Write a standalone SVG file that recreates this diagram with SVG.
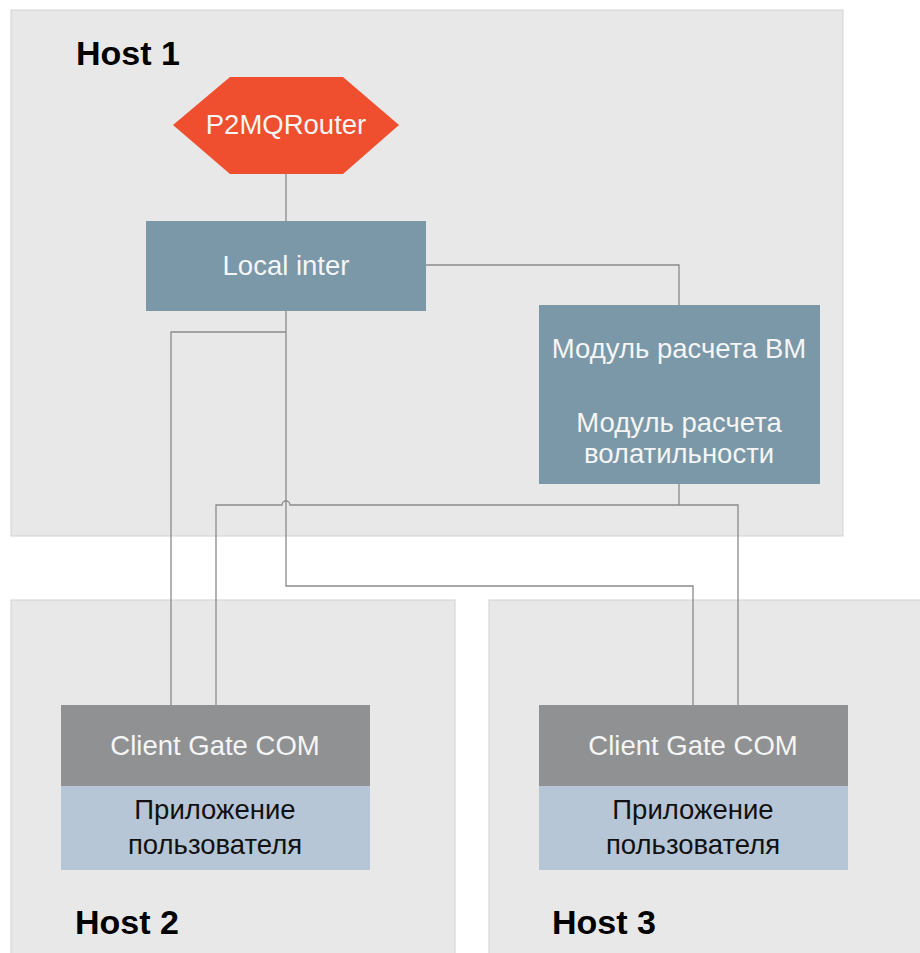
<svg xmlns="http://www.w3.org/2000/svg" width="920" height="953" viewBox="0 0 920 953">
<style>
.host{fill:#e8e8e8;stroke:#d2d2d2;stroke-width:1}
.hl{font-family:"Liberation Sans",Arial,sans-serif;font-weight:bold;font-size:34px;fill:#000}
.wt{font-family:"Liberation Sans",Arial,sans-serif;font-size:27.5px;fill:#f5f5f5;text-anchor:middle}
.bt{font-family:"Liberation Sans",Arial,sans-serif;font-size:27.5px;fill:#111;text-anchor:middle}
.ln{fill:none;stroke:#8a8a8a;stroke-width:1.3}
</style>
<rect width="920" height="953" fill="#fff"/>
<g id="host1"><rect class="host" x="11" y="10" width="832" height="526"/><text class="hl" x="76" y="65">Host 1</text></g>
<g id="host2"><rect class="host" x="11" y="600" width="444" height="370"/><text class="hl" x="75" y="934">Host 2</text></g>
<g id="host3"><rect class="host" x="489" y="600" width="450" height="370"/><text class="hl" x="552" y="934">Host 3</text></g>
<g id="connectors">
<path class="ln" d="M286,174 V221"/>
<path class="ln" d="M426,265 H679 V305"/>
<path class="ln" d="M286,311 V586 H693 V705"/>
<path class="ln" d="M286,332 H171 V705"/>
<path class="ln" d="M216,705 V505 H282 A4,4 0 0 1 290,505 H738 V705"/>
<path class="ln" d="M679,484 V505"/>
</g>
<g id="router"><polygon points="173,125 230,77 343,77 399,125 343,174 230,174" fill="#ef4e2f"/><text class="wt" x="286" y="134">P2MQRouter</text></g>
<g id="local-inter"><rect x="146" y="221" width="280" height="90" fill="#7a98a8"/><text class="wt" x="286" y="275">Local inter</text></g>
<g id="modules"><rect x="539" y="305" width="281" height="179" fill="#7a98a8"/><text class="wt" x="679" y="358">Модуль расчета ВМ</text><text class="wt" x="679" y="432">Модуль расчета</text><text class="wt" x="679" y="463">волатильности</text></g>
<g id="client2"><rect x="61" y="705" width="309" height="81" fill="#909193"/><text class="wt" x="215" y="755">Client Gate COM</text><rect x="61" y="786" width="309" height="84" fill="#b7c6d6"/><text class="bt" x="215" y="819">Приложение</text><text class="bt" x="215" y="854">пользователя</text></g>
<g id="client3"><rect x="539" y="705" width="309" height="81" fill="#909193"/><text class="wt" x="693" y="755">Client Gate COM</text><rect x="539" y="786" width="309" height="84" fill="#b7c6d6"/><text class="bt" x="693" y="819">Приложение</text><text class="bt" x="693" y="854">пользователя</text></g>
</svg>
